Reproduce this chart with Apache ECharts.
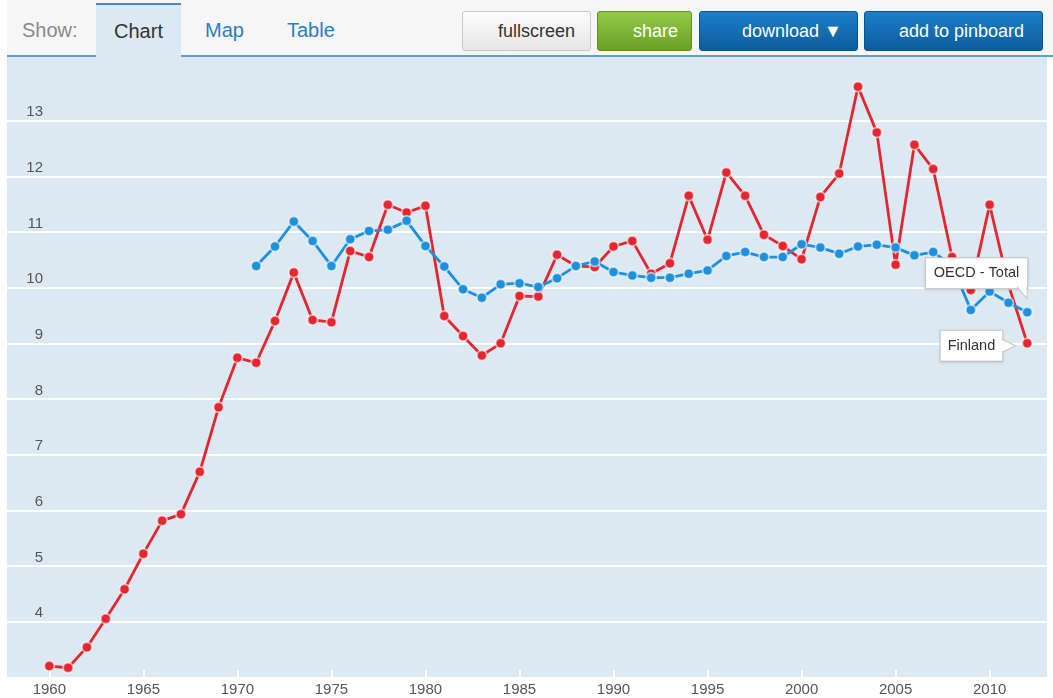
<!DOCTYPE html>
<html>
<head>
<meta charset="utf-8">
<script src="https://cdn.jsdelivr.net/npm/echarts@6/dist/echarts.min.js"></script>
<style>
  html, body { margin:0; padding:0; width:1053px; height:698px; overflow:hidden; background:#fff;
    font-family:"Liberation Sans", Arial, sans-serif; }
  #topbar { position:absolute; left:7px; top:0; width:1046px; height:57px; background:#f6f6f6; }
  #line { position:absolute; left:7px; top:55px; width:1046px; height:2px; background:#5b9fd6; }
  .t { position:absolute; font-size:20px; line-height:24px; top:18px; }
  #show { left:22px; color:#8a8a8a; }
  #tabChart { position:absolute; left:96px; top:3px; width:85px; height:54px; background:#dde9f2;
    border-top:2px solid #3f8fd0; box-sizing:border-box; color:#333; font-size:20px; text-align:center; line-height:52px; }
  #map { left:205px; color:#2a7fc1; }
  #table { left:287px; color:#2a7fc1; }
  .btn { position:absolute; top:11px; height:40px; box-sizing:border-box; border-radius:3px; font-size:18px;
    line-height:38px; white-space:nowrap; }
  #fs { left:462px; width:129px; background:linear-gradient(#fcfcfc,#e6e6e6); border:1px solid #c9c9c9; color:#333; padding-left:35px; }
  #share { left:597px; width:95px; background:linear-gradient(#93c945,#69a127); border:1px solid #5f9222; color:#fff; padding-left:35px; }
  #dl { left:699px; width:159px; background:linear-gradient(#1b7fc8,#0d5c9d); border:1px solid #0b5590; color:#fff; padding-left:42px; }
  #pin { left:864px; width:179px; background:linear-gradient(#1b7fc8,#0d5c9d); border:1px solid #0b5590; color:#fff; padding-left:34px; }
  #plotbg { position:absolute; left:7px; top:57px; width:1040px; height:620px; background:#dde9f2; }
  #chart { position:absolute; left:0; top:0; width:1053px; height:698px; }
</style>
</head>
<body>
<div id="topbar"></div>
<div id="line"></div>
<div class="t" id="show">Show:</div>
<div id="tabChart">Chart</div>
<div class="t" id="map">Map</div>
<div class="t" id="table">Table</div>
<div class="btn" id="fs">fullscreen</div>
<div class="btn" id="share">share</div>
<div class="btn" id="dl">download ▼</div>
<div class="btn" id="pin">add to pinboard</div>
<div id="plotbg"></div>
<div id="chart"></div>
<script>
// ---- data ----
const finlandYears = [1960,1961,1962,1963,1964,1965,1966,1967,1968,1969,
  1970,1971,1972,1973,1974,1975,1976,1977,1978,1979,
  1980,1981,1982,1983,1984,1985,1986,1987,1988,1989,
  1990,1991,1992,1993,1994,1995,1996,1997,1998,1999,
  2000,2001,2002,2003,2004,2005,2006,2007,2008,2009,
  2010,2011,2012];
const finlandValues = [3.20,3.17,3.54,4.05,4.58,5.22,5.81,5.93,6.69,7.85,
  8.74,8.65,9.40,10.27,9.42,9.38,10.66,10.55,11.49,11.35,
  11.47,9.49,9.13,8.78,9.00,9.85,9.84,10.59,10.39,10.37,
  10.74,10.84,10.25,10.44,11.65,10.86,12.07,11.65,10.95,10.75,
  10.51,11.63,12.05,13.61,12.79,10.41,12.57,12.13,10.55,9.96,
  11.49,10.05,9.00];
const oecdYears = [1971,1972,1973,1974,1975,1976,1977,1978,1979,
  1980,1981,1982,1983,1984,1985,1986,1987,1988,1989,
  1990,1991,1992,1993,1994,1995,1996,1997,1998,1999,
  2000,2001,2002,2003,2004,2005,2006,2007,2008,2009,
  2010,2011,2012];
const oecdValues = [10.39,10.74,11.19,10.84,10.39,10.87,11.02,11.04,11.20,
  10.75,10.38,9.97,9.82,10.06,10.08,10.01,10.17,10.39,10.47,
  10.28,10.22,10.18,10.18,10.25,10.31,10.57,10.64,10.55,10.55,
  10.78,10.72,10.61,10.74,10.77,10.72,10.58,10.64,10.40,9.60,
  9.93,9.73,9.56];
const xTickLabels = [1960,1965,1970,1975,1980,1985,1990,1995,2000,2005,2010];
const seriesNames = ['Finland', 'OECD - Total'];

// ---- styles ----
const RED = '#e3262f', BLUE = '#1e90dc';
const FONT = 'Liberation Sans, Arial, sans-serif';
const labelBox = {
  show: true, fontSize: 14.5, color: '#333', fontFamily: FONT,
  backgroundColor: '#fff', borderColor: '#c6c6c6', borderWidth: 1, padding: [7, 7, 7, 7], lineHeight: 16,
  shadowColor: 'rgba(0,0,0,0.12)', shadowBlur: 3, shadowOffsetY: 1
};

function buildData(years, values, lastLabel) {
  return years.map((y, i) => {
    const item = { value: [y, values[i]] };
    if (i === years.length - 1) item.label = lastLabel;
    return item;
  });
}

const finData = buildData(finlandYears, finlandValues, Object.assign({}, labelBox, {
  position: 'inside', align: 'right', verticalAlign: 'middle', offset: [-25, 2.5],
  formatter: seriesNames[0]
}));
const oecdData = buildData(oecdYears, oecdValues, Object.assign({}, labelBox, {
  position: 'inside', align: 'right', verticalAlign: 'bottom', offset: [0, -24],
  padding: [7, 8, 7, 8],
  formatter: seriesNames[1]
}));

const finLast = [finlandYears[finlandYears.length - 1], finlandValues[finlandValues.length - 1]];
const oecdLast = [oecdYears[oecdYears.length - 1], oecdValues[oecdValues.length - 1]];

const markerStyle = (c) => ({ color: c, borderColor: 'rgba(255,255,255,0.55)', borderWidth: 2 });

const chart = echarts.init(document.getElementById('chart'), null, { renderer: 'canvas' });
chart.setOption({
  animation: false,
  backgroundColor: 'transparent',
  grid: { left: 7, right: 6, top: 65.05, bottom: 20.8, containLabel: false },
  xAxis: {
    type: 'value', min: 1957.75, max: 2013.05,
    axisLine: { show: false },
    splitLine: { show: false },
    axisTick: { show: true, inside: true, length: 7, customValues: xTickLabels,
      lineStyle: { color: '#ffffff', width: 2 } },
    axisLabel: { customValues: xTickLabels, fontSize: 15, color: '#555', margin: 5,
      fontFamily: FONT, formatter: (v) => String(v) }
  },
  yAxis: {
    type: 'value', min: 3, max: 14, interval: 1,
    axisLine: { show: false }, axisTick: { show: false },
    splitLine: { show: true, showMinLine: false, showMaxLine: false, lineStyle: { color: '#ffffff', width: 2 } },
    axisLabel: { inside: true, margin: 36, align: 'right', verticalAlign: 'bottom', padding: [0, 0, 1, 0],
      fontSize: 15, color: '#555', showMinLabel: false, showMaxLabel: false,
      fontFamily: FONT, formatter: (v) => String(v) }
  },
  series: [
    {
      name: seriesNames[0], type: 'line', data: finData,
      symbol: 'circle', symbolSize: 10, showAllSymbol: true,
      lineStyle: { color: RED, width: 2.8 },
      itemStyle: markerStyle(RED),
      label: { show: false },
      markPoint: {
        silent: true, animation: false,
        data: [{ coord: finLast, symbol: 'path://M0 0L14 6.5L0 13', symbolSize: [14, 13], symbolOffset: [-18.5, 2.5],
          itemStyle: { color: '#fff', borderColor: '#c6c6c6', borderWidth: 1 }, label: { show: false } }]
      }
    },
    {
      name: seriesNames[1], type: 'line', data: oecdData,
      symbol: 'circle', symbolSize: 10, showAllSymbol: true,
      lineStyle: { color: BLUE, width: 2.8 },
      itemStyle: markerStyle(BLUE),
      label: { show: false },
      markPoint: {
        silent: true, animation: false,
        data: [{ coord: oecdLast, symbol: 'path://M0 0L10 12L10 0', symbolSize: [10, 12], symbolOffset: [-5.2, -19.5],
          itemStyle: { color: '#fff', borderColor: '#c6c6c6', borderWidth: 1 }, label: { show: false } }]
      }
    }
  ]
});
</script>
</body>
</html>
